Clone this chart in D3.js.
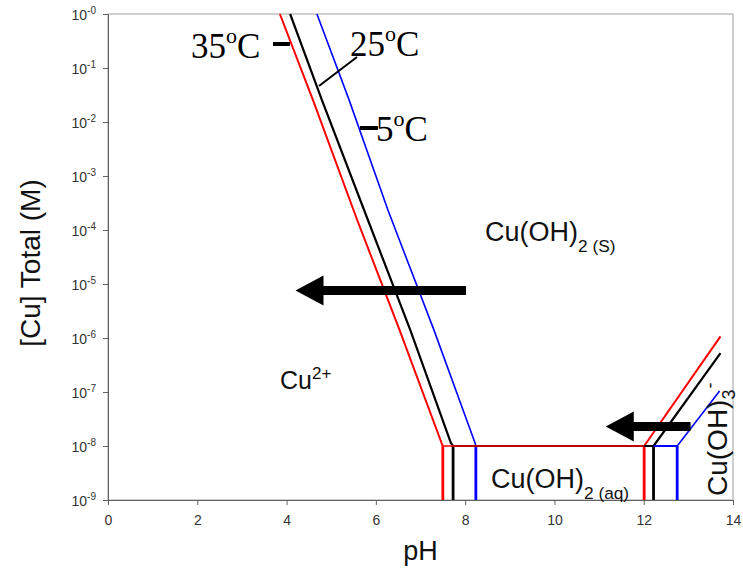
<!DOCTYPE html>
<html>
<head>
<meta charset="utf-8">
<script src="https://cdn.jsdelivr.net/npm/d3@7/dist/d3.min.js"></script>
<style>
  body { margin: 0; background: #fff; }
  svg text { font-family: Arial, "Liberation Sans", sans-serif; }
  .serif { font-family: "Times New Roman", "Liberation Serif", serif !important; }
</style>
</head>
<body>
<svg id="chart" width="743" height="572"></svg>
<script>
// data (pH, log10 [Cu])
const xTicks = [0, 2, 4, 6, 8, 10, 12, 14];
const yExps = [0, -1, -2, -3, -4, -5, -6, -7, -8, -9];

// Cu2+ / Cu(OH)2(s) boundary for each temperature
const acid35 = [[3.85, 0], [4.59, -1.59], [5.58, -3.81], [6.53, -5.85], [7.47, -7.94], [7.5, -8]];
const acid25 = [[4.08, 0], [4.79, -1.59], [5.82, -3.81], [6.77, -5.85], [7.68, -7.94], [7.73, -8]];
const acid5  = [[4.68, 0], [5.40, -1.59], [6.27, -3.63], [7.30, -5.85], [8.22, -7.94], [8.24, -8]];

// Cu(OH)2(s) / Cu(OH)3- boundary
const base35 = [[12.01, -8], [13.72, -5.97]];
const base25 = [[12.22, -8], [13.72, -6.28]];
const base5  = [[12.75, -8], [13.70, -6.98]];

// verticals (aq boundaries) pH values
const left35 = 7.5, left25 = 7.73, left5 = 8.24;
const right35 = 12.01, right25 = 12.22, right5 = 12.75;

const series = [
  { name: '5', color: '#0000ff', width: 1.6, acid: acid5, base: base5, left: left5, right: right5 },
  { name: '25', color: '#000000', width: 2.2, acid: acid25, base: base25, left: left25, right: right25 },
  { name: '35', color: '#ff0000', width: 2.0, acid: acid35, base: base35, left: left35, right: right35 }
];

// arrows: [fromPH, toPH, logC]
const arrows = [[8.02, 4.2, -5.12], [13.05, 11.15, -7.64]];

// layout
const L = 108, R = 733, T = 14, B = 500;
const svg = d3.select('#chart');

const x = d3.scaleLinear().domain([0, 14]).range([L, R]);
const y = d3.scaleLinear().domain([-9, 0]).range([B, T]); // log10 units

// plot border
svg.append('rect')
  .attr('x', L).attr('y', T)
  .attr('width', R - L).attr('height', B - T)
  .attr('fill', 'none')
  .attr('stroke', '#a0a0a0')
  .attr('stroke-width', 1);

// axes
const xAxis = d3.axisBottom(x).tickValues(xTicks).tickSize(5).tickFormat(d3.format('d'));
const gx = svg.append('g').attr('transform', `translate(0,${B})`).call(xAxis);
gx.select('.domain').attr('stroke', '#606060');
gx.selectAll('line').attr('stroke', '#606060');
gx.selectAll('text')
  .attr('dy', '1.2em')
  .attr('font-size', 14)
  .attr('fill', '#333')
  .style('font-family', 'Arial, "Liberation Sans", sans-serif');

const yAxis = d3.axisLeft(y).tickValues(yExps).tickSize(5).tickFormat('');
const gy = svg.append('g').attr('transform', `translate(${L},0)`).call(yAxis);
gy.select('.domain').attr('stroke', '#606060');
gy.selectAll('line').attr('stroke', '#606060');

gy.selectAll('.tick').each(function(d) {
  const t = d3.select(this).append('text')
    .attr('x', -12).attr('y', 5)
    .attr('text-anchor', 'end')
    .attr('font-size', 14)
    .attr('fill', '#333');
  t.append('tspan').text('10');
  t.append('tspan').attr('dy', -6).attr('font-size', 10).text(d === 0 ? '-0' : String(d));
});

// axis titles
svg.append('text')
  .attr('x', x(7)).attr('y', 560)
  .attr('text-anchor', 'middle')
  .attr('font-size', 27)
  .attr('fill', '#111')
  .text('pH');

svg.append('text')
  .attr('transform', `translate(40,${(T + B) / 2 + 6}) rotate(-90)`)
  .attr('text-anchor', 'middle')
  .attr('font-size', 28)
  .attr('fill', '#111')
  .text('[Cu] Total (M)');

// boundary lines
const line = d3.line().x(d => x(d[0])).y(d => y(d[1]));
const lines = svg.append('g').attr('fill', 'none').attr('stroke-linejoin', 'round');

series.forEach(s => {
  lines.append('path').datum(s.acid)
    .attr('d', line).attr('stroke', s.color).attr('stroke-width', s.width);
  lines.append('path').datum(s.base)
    .attr('d', line).attr('stroke', s.color).attr('stroke-width', s.width);
});
series.forEach(s => {
  lines.append('path').datum([[s.left, -9], [s.left, -8]])
    .attr('d', line).attr('stroke', s.color).attr('stroke-width', 2.8);
  lines.append('path').datum([[s.right, -9], [s.right, -8]])
    .attr('d', line).attr('stroke', s.color).attr('stroke-width', 2.8);
});
series.forEach(s => {
  lines.append('path').datum([[s.left, -8], [s.right, -8]])
    .attr('d', line).attr('stroke', s.color)
    .attr('stroke-width', s.name === '35' ? 1.4 : 2);
});

// arrows
arrows.forEach(a => {
  const x0 = x(a[0]), x1 = x(a[1]), yc = y(a[2]);
  const hl = 28, hh = 15, sh = 4.5;
  svg.append('path')
    .attr('d', `M${x0},${yc - sh}L${x1 + hl},${yc - sh}L${x1 + hl},${yc - hh}L${x1},${yc}` +
               `L${x1 + hl},${yc + hh}L${x1 + hl},${yc + sh}L${x0},${yc + sh}Z`)
    .attr('fill', '#000');
});

// temperature labels
function tempLabel(tx, ty, num) {
  const t = svg.append('text').attr('class', 'serif')
    .attr('x', tx).attr('y', ty)
    .attr('font-size', 35).attr('fill', '#000');
  t.append('tspan').text(num);
  t.append('tspan').attr('dy', -15).attr('font-size', 22).text('o');
  t.append('tspan').attr('dy', 15).text('C');
}
tempLabel(191, 58, '35');
tempLabel(350, 56, '25');
tempLabel(376, 141, '5');

const marks = svg.append('g').attr('stroke', '#000');
marks.append('line').attr('x1', 273).attr('y1', 44).attr('x2', 290).attr('y2', 44).attr('stroke-width', 4);
marks.append('line').attr('x1', 360).attr('y1', 128).attr('x2', 378).attr('y2', 128).attr('stroke-width', 4);
marks.append('line').attr('x1', 319).attr('y1', 86).attr('x2', 357).attr('y2', 57).attr('stroke-width', 2);

// region labels
function species(tx, ty, main, sub, size) {
  const t = svg.append('text').attr('x', tx).attr('y', ty)
    .attr('font-size', size).attr('fill', '#111');
  t.append('tspan').text(main);
  t.append('tspan').attr('dy', 11).attr('font-size', size * 0.64).text(sub);
  return t;
}
species(485, 241, 'Cu(OH)', '2 (S)', 27);
species(491, 488, 'Cu(OH)', '2 (aq)', 27);

const cu = svg.append('text').attr('x', 280).attr('y', 389)
  .attr('font-size', 25).attr('fill', '#111');
cu.append('tspan').text('Cu');
cu.append('tspan').attr('dy', -10).attr('font-size', 17).text('2+');

const hyd = svg.append('text')
  .attr('transform', 'translate(727,496) rotate(-90)')
  .attr('font-size', 28).attr('fill', '#111');
hyd.append('tspan').text('Cu(OH)');
hyd.append('tspan').attr('dy', 8).attr('font-size', 18).text('3');
hyd.append('tspan').attr('dx', 1).attr('dy', -19).attr('font-size', 18).text('-');
</script>
</body>
</html>
